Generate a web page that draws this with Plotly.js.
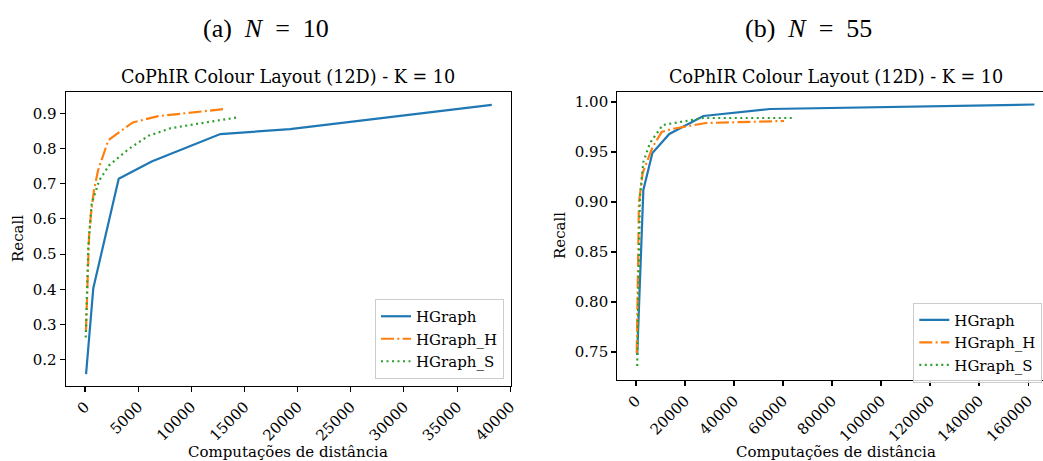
<!DOCTYPE html>
<html>
<head>
<meta charset="utf-8">
<script src="https://cdn.plot.ly/plotly-3.0.1.min.js"></script>
<style>
  html, body { margin: 0; padding: 0; background: #fff; overflow: hidden; }
  #chart { width: 1060px; height: 461px; }
</style>
</head>
<body>
<div id="chart"></div>
<script>
// Recall vs. number of distance computations, CoPhIR Colour Layout (12D), K = 10

// (a) N = 10
const hgraphX_a  = [100, 780, 3170, 6270, 12730, 19280, 38260];
const hgraphY_a  = [0.159, 0.403, 0.714, 0.763, 0.841, 0.855, 0.924];
const hgraphHX_a = [90, 380, 560, 850, 1220, 2200, 4490, 6900, 13080];
const hgraphHY_a = [0.280, 0.550, 0.614, 0.682, 0.737, 0.824, 0.874, 0.892, 0.912];
const hgraphSX_a = [70, 310, 630, 1030, 1350, 2290, 4080, 5960, 8000, 11130, 14270];
const hgraphSY_a = [0.263, 0.521, 0.644, 0.682, 0.710, 0.753, 0.798, 0.836, 0.857, 0.873, 0.888];

// (b) N = 55
const hgraphX_b  = [500, 3000, 6700, 13600, 27500, 54700, 162600];
const hgraphY_b  = [0.747, 0.912, 0.949, 0.968, 0.986, 0.993, 0.9975];
const hgraphHX_b = [300, 1200, 2700, 6800, 10500, 14600, 28500, 60400];
const hgraphHY_b = [0.749, 0.899, 0.929, 0.955, 0.970, 0.973, 0.979, 0.981];
const hgraphSX_b = [500, 1600, 3000, 5700, 10900, 18000, 27500, 64000];
const hgraphSY_b = [0.736, 0.905, 0.940, 0.959, 0.977, 0.980, 0.984, 0.984];

const seriesNames = ['HGraph', 'HGraph_H', 'HGraph_S'];
const yTicks_a = [0.2, 0.3, 0.4, 0.5, 0.6, 0.7, 0.8, 0.9];
const yTicks_b = [0.75, 0.80, 0.85, 0.90, 0.95, 1.00];
const xTicks_a = [0, 5000, 10000, 15000, 20000, 25000, 30000, 35000, 40000];
const xTicks_b = [0, 20000, 40000, 60000, 80000, 100000, 120000, 140000, 160000];

const subplotTitle = 'CoPhIR Colour Layout (12D) - K = 10';
const xLabel = 'Computações de distância';
const yLabel = 'Recall';

const W = 1060, H = 461;
const fx = px => px / W;
const fy = py => 1 - py / H;

const SERIF = '"DejaVu Serif", serif';
const FS = 15;
const colors = ['#1f77b4', '#ff7f0e', '#2ca02c'];
const dashes = ['solid', '13px,3.3px,2px,3.3px', '2px,3.5px'];

function makeTraces(xs, ys, xa, ya, legendId) {
  return xs.map((x, i) => ({
    type: 'scatter', mode: 'lines',
    x: x, y: ys[i], name: seriesNames[i],
    xaxis: xa, yaxis: ya, legend: legendId,
    line: { color: colors[i], width: 2.2, dash: dashes[i] }
  }));
}

const traces = [
  ...makeTraces([hgraphX_a, hgraphHX_a, hgraphSX_a], [hgraphY_a, hgraphHY_a, hgraphSY_a], 'x', 'y', 'legend'),
  ...makeTraces([hgraphX_b, hgraphHX_b, hgraphSX_b], [hgraphY_b, hgraphHY_b, hgraphSY_b], 'x2', 'y2', 'legend2')
];

const axisCommon = {
  showgrid: false, zeroline: false,
  showline: true, mirror: true, linecolor: '#000', linewidth: 1.1,
  ticks: 'outside', ticklen: 5, tickwidth: 1.1, tickcolor: '#000',
  tickfont: { family: SERIF, size: FS, color: '#000' }
};

const legendCommon = {
  bgcolor: 'rgba(255,255,255,0.8)', bordercolor: '#cccccc', borderwidth: 1,
  font: { family: SERIF, size: FS, color: '#000' },
  tracegroupgap: 0, itemwidth: 30
};

const layout = {
  width: W, height: H,
  margin: { l: 0, r: 0, t: 0, b: 0 },
  paper_bgcolor: '#fff', plot_bgcolor: '#fff',
  showlegend: true,
  xaxis: Object.assign({}, axisCommon, {
    domain: [fx(65.7), fx(511)], range: [-1816, 40070], anchor: 'y',
    tickvals: xTicks_a, tickformat: 'd', tickangle: -45
  }),
  yaxis: Object.assign({}, axisCommon, {
    domain: [fy(386), fy(92)], range: [0.1253, 0.9605], anchor: 'x',
    tickvals: yTicks_a, tickformat: '.1f'
  }),
  xaxis2: Object.assign({}, axisCommon, {
    domain: [fx(617.3), fx(1055)], range: [-7630, 171000], anchor: 'y2',
    tickvals: xTicks_b, tickformat: 'd', tickangle: -45
  }),
  yaxis2: Object.assign({}, axisCommon, {
    domain: [fy(380), fy(92.3)], range: [0.722, 1.0097], anchor: 'x2',
    tickvals: yTicks_b, tickformat: '.2f'
  }),
  legend: Object.assign({}, legendCommon, {
    x: fx(504), y: fy(379), xanchor: 'right', yanchor: 'bottom'
  }),
  legend2: Object.assign({}, legendCommon, {
    x: fx(913.3), y: fy(302.7), xanchor: 'left', yanchor: 'top'
  }),
  annotations: [
    { text: '(a)\u00a0\u00a0<i>N</i>\u00a0\u00a0=\u00a0\u00a010', x: fx(266), y: fy(28) },
    { text: '(b)\u00a0\u00a0<i>N</i>\u00a0\u00a0=\u00a0\u00a055', x: fx(808), y: fy(28) }
  ].map(a => Object.assign(a, {
    xref: 'paper', yref: 'paper', showarrow: false, xanchor: 'center', yanchor: 'middle',
    font: { family: '"Liberation Serif", serif', size: 26, color: '#000' }
  })).concat([
    { text: subplotTitle, x: fx(288.4), y: fy(77) },
    { text: subplotTitle, x: fx(836), y: fy(77) }
  ].map(a => Object.assign(a, {
    xref: 'paper', yref: 'paper', showarrow: false, xanchor: 'center', yanchor: 'middle',
    font: { family: SERIF, size: 17.6, color: '#000' }
  }))).concat([
    { text: xLabel, x: fx(288.4), y: fy(452) },
    { text: xLabel, x: fx(836), y: fy(452) },
    { text: yLabel, x: fx(18), y: fy(239), textangle: -90 },
    { text: yLabel, x: fx(560), y: fy(236), textangle: -90 }
  ].map(a => Object.assign(a, {
    xref: 'paper', yref: 'paper', showarrow: false, xanchor: 'center', yanchor: 'middle',
    font: { family: SERIF, size: FS, color: '#000' }
  })))
};

Plotly.newPlot('chart', traces, layout, { displayModeBar: false, staticPlot: true });
</script>
</body>
</html>
